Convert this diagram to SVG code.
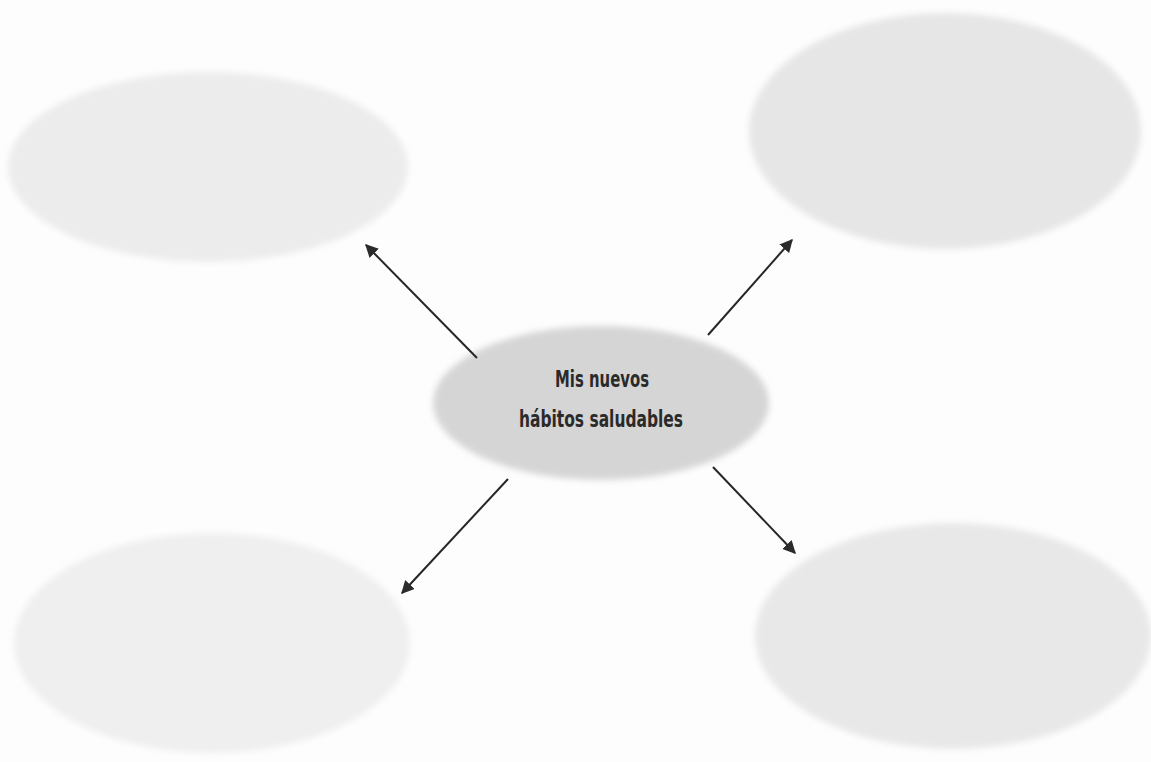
<svg xmlns="http://www.w3.org/2000/svg" width="1151" height="762" viewBox="0 0 1151 762">
  <defs>
    <marker id="arrow" viewBox="0 0 10 10" refX="9" refY="5" markerWidth="6.5" markerHeight="6.5" markerUnits="strokeWidth" orient="auto">
      <path d="M0,0 L10,5 L0,10 z" fill="#2b2b2b"/>
    </marker>
    <filter id="soft" x="-10%" y="-10%" width="120%" height="120%">
      <feGaussianBlur stdDeviation="3"/>
    </filter>
  </defs>
  <style>
    .blob { filter: url(#soft); }
    .conn { stroke: #262626; stroke-width: 2; fill: none; marker-end: url(#arrow); }
    .label { font-family: "DejaVu Sans", "Liberation Sans", sans-serif; font-weight: bold; font-size: 23px; fill: #2a2a2a; text-anchor: middle; }
  </style>
  <rect width="1151" height="762" fill="#fdfdfd"/>
  <g id="node-top-left">
    <ellipse class="blob" cx="208" cy="167" rx="200" ry="95" fill="#ececec"/>
  </g>
  <g id="node-top-right">
    <ellipse class="blob" cx="945" cy="131" rx="196" ry="118" fill="#e6e6e6"/>
  </g>
  <g id="node-bottom-left">
    <ellipse class="blob" cx="212" cy="643" rx="198" ry="110" fill="#efefef"/>
  </g>
  <g id="node-bottom-right">
    <ellipse class="blob" cx="953" cy="636" rx="198" ry="113" fill="#e8e8e8"/>
  </g>
  <g id="node-center">
    <ellipse cx="601" cy="403" rx="168" ry="77" fill="#d5d5d5" filter="url(#soft)"/>
    <text class="label" x="602" y="387" textLength="94" lengthAdjust="spacingAndGlyphs">Mis nuevos</text>
    <text class="label" x="601" y="427" textLength="164" lengthAdjust="spacingAndGlyphs">hábitos saludables</text>
  </g>
  <g id="connectors">
    <line class="conn" x1="477" y1="358" x2="366" y2="245"/>
    <line class="conn" x1="708" y1="335" x2="792" y2="240"/>
    <line class="conn" x1="508" y1="479" x2="402" y2="593"/>
    <line class="conn" x1="713" y1="467" x2="795" y2="553"/>
  </g>
</svg>
